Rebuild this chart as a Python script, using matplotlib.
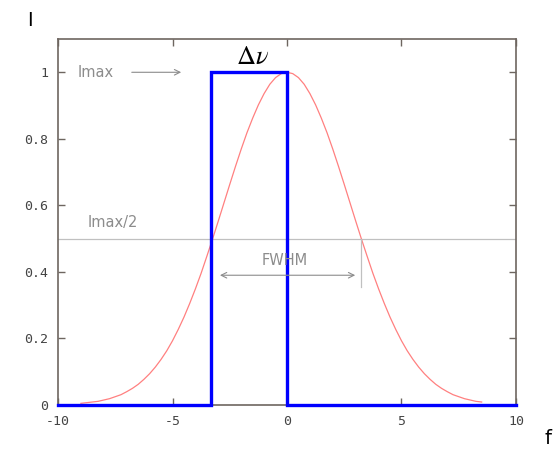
import matplotlib.pyplot as plt

plt.rcParams['axes.unicode_minus'] = False
plt.rcParams['mathtext.fontset'] = 'stix'

# gaussian line profile
gauss_x = [-9, -8.75, -8.5, -8.25, -8, -7.75, -7.5, -7.25, -7, -6.75, -6.5, -6.25, -6, -5.75,
           -5.5, -5.25, -5, -4.75, -4.5, -4.25, -4, -3.75, -3.5, -3.25, -3, -2.75, -2.5, -2.25,
           -2, -1.75, -1.5, -1.25, -1, -0.75, -0.5, -0.25, 0,
           0.25, 0.5, 0.75, 1, 1.25, 1.5, 1.75, 2, 2.25, 2.5, 2.75, 3, 3.25, 3.5, 3.75, 4,
           4.25, 4.5, 4.75, 5, 5.25, 5.5, 5.75, 6, 6.25, 6.5, 6.75, 7, 7.25, 7.5, 7.75, 8,
           8.25, 8.5]
gauss_y = [0.005, 0.007, 0.009, 0.011, 0.015, 0.019, 0.025, 0.031, 0.040, 0.050, 0.062, 0.077,
           0.094, 0.114, 0.137, 0.163, 0.193, 0.227, 0.264, 0.305, 0.349, 0.396, 0.447, 0.499,
           0.553, 0.608, 0.663, 0.717, 0.769, 0.818, 0.862, 0.902, 0.936, 0.964, 0.984, 0.996, 1.0,
           0.996, 0.984, 0.964, 0.936, 0.902, 0.862, 0.818, 0.769, 0.717, 0.663, 0.608, 0.553,
           0.499, 0.447, 0.396, 0.349, 0.305, 0.264, 0.227, 0.193, 0.163, 0.137, 0.114, 0.094,
           0.077, 0.062, 0.050, 0.040, 0.031, 0.025, 0.019, 0.015, 0.011, 0.009]

# rectangular profile (width = delta nu)
rect_x = [-10, -3.3, -3.3, 0.0, 0.0, 10]
rect_y = [0, 0, 1, 1, 0, 0]

half_max = 0.5
fwhm_left, fwhm_right = -3.25, 3.2

x_ticks = [-10, -5, 0, 5, 10]
y_ticks = [0, 0.2, 0.4, 0.6, 0.8, 1]
y_labels = ['0', '0.2', '0.4', '0.6', '0.8', '1']

fig = plt.figure(figsize=(5.54, 4.5), dpi=100)
ax = fig.add_axes([0.1047, 0.1, 0.8267, 0.8133])

spine_col = '#6e6660'
grey = '#8c8c8c'

ax.axhline(half_max, color='#c0c0c0', lw=0.9, zorder=1)
ax.plot(gauss_x, gauss_y, color='#ff8080', lw=0.9, zorder=2)
ax.plot(rect_x, rect_y, color='#0000ff', lw=2.4, zorder=3, solid_joinstyle='miter',
        clip_on=False)

# annotations
ax.text(-9.15, 1.0, 'Imax', color=grey, fontsize=10.5, va='center', ha='left')
ax.annotate('', xy=(-4.5, 1.0), xytext=(-6.9, 1.0),
            arrowprops=dict(arrowstyle='->', color=grey, lw=0.8))
ax.text(-8.7, 0.55, 'Imax/2', color=grey, fontsize=10.5, va='center', ha='left')
ax.text(-0.1, 0.435, 'FWHM', color=grey, fontsize=10.5, va='center', ha='center')
ax.annotate('', xy=(fwhm_right - 0.1, 0.39), xytext=(fwhm_left + 0.2, 0.39),
            arrowprops=dict(arrowstyle='<->', color=grey, lw=0.8))
ax.plot([fwhm_right + 0.03, fwhm_right + 0.03], [half_max, 0.355], color='#c0c0c0', lw=0.9)

ax.text(-1.5, 1.045, r'$\Delta\nu$', fontsize=19, color='black', ha='center', va='center')

ax.set_xlim(-10, 10)
ax.set_ylim(0, 1.1)
ax.set_xticks(x_ticks)
ax.set_yticks(y_ticks)
ax.set_yticklabels(y_labels)
ax.tick_params(direction='in', length=5, width=1, color=spine_col, top=True, right=True,
               labelsize=9.5, labelcolor='#444444', pad=7)
for lab in ax.get_xticklabels() + ax.get_yticklabels():
    lab.set_family('DejaVu Sans Mono')
for sp in ax.spines.values():
    sp.set_color(spine_col)
    sp.set_linewidth(1.2)

fig.text(0.054, 0.955, 'I', fontsize=14, ha='center', va='center')
fig.text(0.99, 0.025, 'f', fontsize=14, ha='center', va='center')

plt.savefig('out.png')
